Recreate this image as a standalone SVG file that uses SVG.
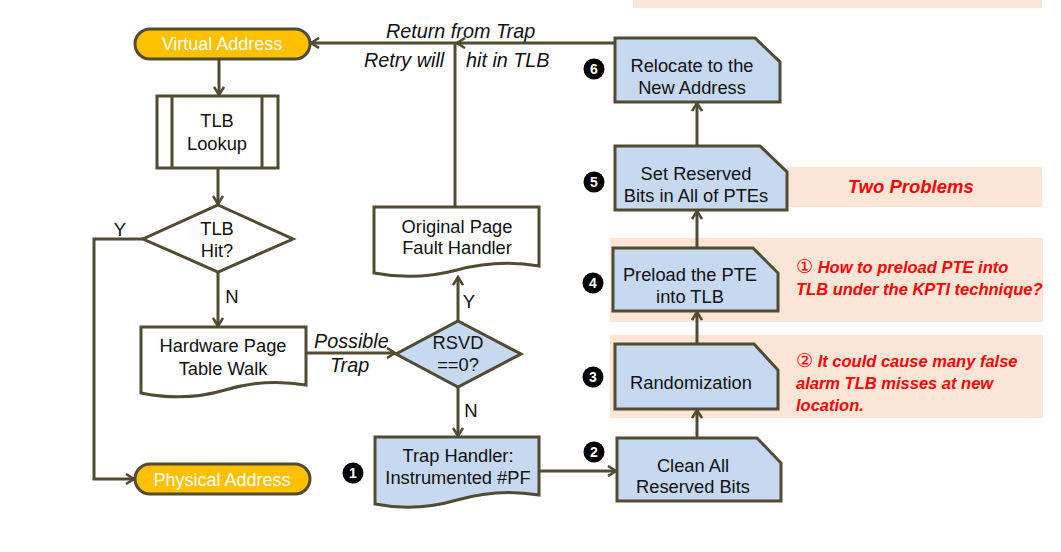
<svg xmlns="http://www.w3.org/2000/svg" width="1061" height="552" viewBox="0 0 1061 552">
<style>
.ln{fill:none;stroke:#504B32;stroke-width:3}
.bx{stroke:#504B32;stroke-width:3;stroke-linejoin:miter}
.w{fill:#fff}
.b{fill:#C6D9F0}
.pill{fill:#FFC000;stroke:#504B32;stroke-width:3}
.t{font-family:"Liberation Sans","DejaVu Sans",sans-serif;font-size:18.3px;fill:#111;text-anchor:middle}
.pt{font-family:"Liberation Sans","DejaVu Sans",sans-serif;font-size:18px;fill:#fff;text-anchor:middle}
.it{font-family:"Liberation Sans","DejaVu Sans",sans-serif;font-size:19.8px;font-style:italic;fill:#111}
.lb{font-family:"Liberation Sans","DejaVu Sans",sans-serif;font-size:18.5px;fill:#111;text-anchor:middle}
.red{font-family:"Liberation Sans","DejaVu Sans","Noto Sans CJK SC",sans-serif;font-size:16.5px;font-weight:bold;font-style:italic;fill:#FF0000}
.num{font-family:"Liberation Sans","DejaVu Sans",sans-serif;font-size:14px;font-weight:bold;fill:#fff;text-anchor:middle}
.peach{fill:#FBE5D6}
</style>
<defs>
<marker id="ar" viewBox="0 0 12 12" markerWidth="12" markerHeight="12" refX="10" refY="6" orient="auto" markerUnits="userSpaceOnUse">
<path d="M2,1 L10,6 L2,11" fill="none" stroke="#504B32" stroke-width="2.6"/>
</marker>
</defs>
<rect width="1061" height="552" fill="#fff"/>
<g id="annotations">
<rect class="peach" x="633" y="0" width="409" height="8"/>
<rect class="peach" x="787" y="167" width="255" height="40"/>
<rect class="peach" x="610" y="238" width="433" height="84"/>
<rect class="peach" x="610" y="335" width="433" height="83"/>
<text class="red" x="848" y="193" style="font-size:18.5px">Two Problems</text>
<text class="red" x="796" y="273"><tspan font-weight="normal" font-style="normal" font-size="19px">①</tspan> How to preload PTE into</text>
<text class="red" x="796" y="295">TLB under the KPTI technique?</text>
<text class="red" x="796" y="367"><tspan font-weight="normal" font-style="normal" font-size="19px">②</tspan> It could cause many false</text>
<text class="red" x="796" y="389">alarm TLB misses at new</text>
<text class="red" x="796" y="411">location.</text>
</g>
<g id="connectors">
<line class="ln" x1="219" y1="59" x2="219" y2="95" marker-end="url(#ar)"/>
<line class="ln" x1="218" y1="168" x2="218" y2="204" marker-end="url(#ar)"/>
<line class="ln" x1="218" y1="272" x2="218" y2="326" marker-end="url(#ar)"/>
<polyline class="ln" points="143,239 94,239 94,479 134,479" marker-end="url(#ar)"/>
<line class="ln" x1="306" y1="353" x2="395" y2="353" marker-end="url(#ar)"/>
<line class="ln" x1="458" y1="321" x2="458" y2="277" marker-end="url(#ar)"/>
<line class="ln" x1="458" y1="387" x2="458" y2="436" marker-end="url(#ar)"/>
<line class="ln" x1="539" y1="471" x2="616" y2="471" marker-end="url(#ar)"/>
<line class="ln" x1="697" y1="438" x2="697" y2="410" marker-end="url(#ar)"/>
<line class="ln" x1="697" y1="344" x2="697" y2="312" marker-end="url(#ar)"/>
<line class="ln" x1="697" y1="248" x2="697" y2="211" marker-end="url(#ar)"/>
<line class="ln" x1="697" y1="146" x2="697" y2="103" marker-end="url(#ar)"/>
<line class="ln" x1="455" y1="207" x2="455" y2="43"/>
<line class="ln" x1="615" y1="43" x2="457" y2="43" marker-end="url(#ar)"/>
<line class="ln" x1="457" y1="43" x2="311" y2="43" marker-end="url(#ar)"/>
<text class="it" x="386" y="38">Return from Trap</text>
<text class="it" x="364" y="67">Retry will</text>
<text class="it" x="466" y="67">hit in TLB</text>
<text class="lb" x="120" y="236">Y</text>
<text class="lb" x="232" y="303">N</text>
<text class="it" x="314" y="348">Possible</text>
<text class="it" x="330" y="372">Trap</text>
<text class="lb" x="469" y="308">Y</text>
<text class="lb" x="471" y="417">N</text>
</g>
<g id="virtual-address">
<rect class="pill" x="135" y="29" width="175" height="30" rx="15"/>
<text class="pt" x="222" y="50">Virtual Address</text>
</g>
<g id="tlb-lookup">
<rect class="bx w" x="157" y="96" width="121" height="72"/>
<line class="ln" x1="172" y1="96" x2="172" y2="168"/>
<line class="ln" x1="262" y1="96" x2="262" y2="168"/>
<text class="t" x="217" y="127">TLB</text>
<text class="t" x="217" y="150">Lookup</text>
</g>
<g id="tlb-hit">
<polygon class="bx w" points="218,205 293,239 218,272 143,239"/>
<text class="t" x="217" y="235">TLB</text>
<text class="t" x="217" y="257">Hit?</text>
</g>
<g id="hardware-walk">
<path class="bx w" d="M141,327 H306 V385 Q265,378 225,390 T141,393 Z"/>
<text class="t" x="223" y="352">Hardware Page</text>
<text class="t" x="223" y="375">Table Walk</text>
</g>
<g id="physical-address">
<rect class="pill" x="135" y="464" width="175" height="30" rx="15"/>
<text class="pt" x="222" y="486">Physical Address</text>
</g>
<g id="rsvd">
<polygon class="bx b" points="458,321 521,354 458,387 396,354"/>
<text class="t" x="458" y="349">RSVD</text>
<text class="t" x="458" y="371">==0?</text>
</g>
<g id="original-handler">
<path class="bx w" d="M374,207 H539 V266 Q498,259 457,270 T374,273 Z"/>
<text class="t" x="457" y="233">Original Page</text>
<text class="t" x="457" y="254">Fault Handler</text>
</g>
<g id="trap-handler">
<path class="bx b" d="M375,437 H539 V495 Q498,488 457,500 T375,504 Z"/>
<text class="t" x="458" y="462">Trap Handler:</text>
<text class="t" x="458" y="484">Instrumented #PF</text>
<circle cx="353" cy="473" r="10.5" fill="#000"/>
<text class="num" x="353" y="478">1</text>
</g>
<g id="clean-bits">
<path class="bx b" d="M617,438 H757 L781,463 V501 H617 Z"/>
<text class="t" x="693" y="472">Clean All</text>
<text class="t" x="693" y="493">Reserved Bits</text>
<circle cx="594" cy="452" r="10.5" fill="#000"/>
<text class="num" x="594" y="457">2</text>
</g>
<g id="randomization">
<path class="bx b" d="M615,344 H754 L778,370 V409 H615 Z"/>
<text class="t" x="691" y="389">Randomization</text>
<circle cx="593" cy="377" r="10.5" fill="#000"/>
<text class="num" x="593" y="382">3</text>
</g>
<g id="preload">
<path class="bx b" d="M613,248 H753 L778,273 V311 H613 Z"/>
<text class="t" x="690" y="281">Preload the PTE</text>
<text class="t" x="690" y="303">into TLB</text>
<circle cx="593" cy="283" r="10.5" fill="#000"/>
<text class="num" x="593" y="288">4</text>
</g>
<g id="set-reserved">
<path class="bx b" d="M615,146 H760 L787,172 V210 H615 Z"/>
<text class="t" x="696" y="180">Set Reserved</text>
<text class="t" x="696" y="202">Bits in All of PTEs</text>
<circle cx="594" cy="182" r="10.5" fill="#000"/>
<text class="num" x="594" y="187">5</text>
</g>
<g id="relocate">
<path class="bx b" d="M615,38 H755 L780,62 V102 H615 Z"/>
<text class="t" x="692" y="72">Relocate to the</text>
<text class="t" x="692" y="94">New Address</text>
<circle cx="594" cy="69" r="10.5" fill="#000"/>
<text class="num" x="594" y="74">6</text>
</g>
</svg>
